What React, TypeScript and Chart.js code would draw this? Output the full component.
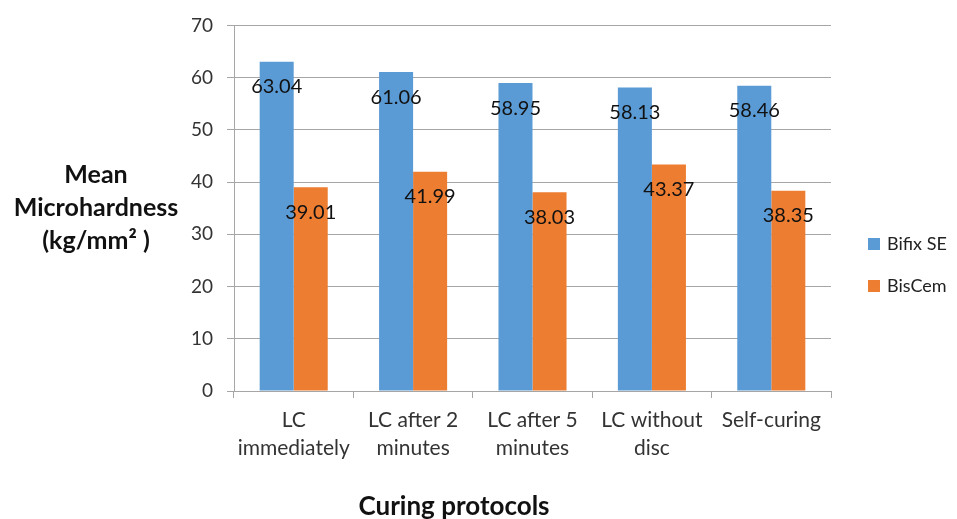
import React, { useEffect, useRef } from "react";
import { Chart, registerables } from "chart.js";

Chart.register(...registerables);

const categories: string[][] = [
  ["LC", "immediately"],
  ["LC after 2", "minutes"],
  ["LC after 5", "minutes"],
  ["LC without", "disc"],
  ["Self-curing"],
];
const bifixSE = [63.04, 61.06, 58.95, 58.13, 58.46];
const bisCem = [39.01, 41.99, 38.03, 43.37, 38.35];
const seriesNames = ["Bifix SE", "BisCem"];
const seriesColors = ["#5B9BD5", "#ED7D31"];
const yMin = 0;
const yMax = 70;
const yStep = 10;
const yTitleLines = ["Mean", "Microhardness", "(kg/mm² )"];
const xTitle = "Curing protocols";

const FONT = "Lato, 'Open Sans', sans-serif";

const decorPlugin = {
  id: "decor",
  afterDatasetsDraw(chart: any) {
    const ctx = chart.ctx;
    ctx.save();
    ctx.font = `20px ${FONT}`;
    ctx.fillStyle = "#111";
    ctx.textAlign = "center";
    ctx.textBaseline = "middle";
    chart.data.datasets.forEach((ds: any, di: number) => {
      const meta = chart.getDatasetMeta(di);
      meta.data.forEach((el: any, i: number) => {
        ctx.fillText(Number(ds.data[i]).toFixed(2), el.x, el.y + 25);
      });
    });
    ctx.restore();
  },
  afterDraw(chart: any) {
    const ctx = chart.ctx;
    ctx.save();
    ctx.font = `bold 25px ${FONT}`;
    ctx.fillStyle = "#111";
    ctx.textAlign = "center";
    ctx.textBaseline = "middle";
    yTitleLines.forEach((t, i) => ctx.fillText(t, 96, 175 + i * 33));
    ctx.font = `bold 26px ${FONT}`;
    ctx.fillText(xTitle, 454, 507);
    ctx.font = `18px ${FONT}`;
    ctx.textAlign = "left";
    seriesNames.forEach((n, i) => {
      const cy = 244 + i * 42;
      ctx.fillStyle = seriesColors[i];
      ctx.fillRect(868, cy - 6, 12, 12);
      ctx.fillStyle = "#222";
      ctx.fillText(n, 887, cy);
    });
    ctx.restore();
  },
};

export default function App() {
  const ref = useRef<HTMLCanvasElement>(null);
  useEffect(() => {
    if (!ref.current) return;
    const chart = new Chart(ref.current, {
      type: "bar",
      data: {
        labels: categories as any,
        datasets: [
          { label: seriesNames[0], data: bifixSE, backgroundColor: seriesColors[0] },
          { label: seriesNames[1], data: bisCem, backgroundColor: seriesColors[1] },
        ],
      },
      options: {
        responsive: false,
        animation: false,
        layout: { padding: { top: 22, right: 126, left: 0, bottom: 0 } },
        datasets: { bar: { categoryPercentage: 0.57, barPercentage: 1 } } as any,
        plugins: { legend: { display: false }, tooltip: { enabled: false } },
        scales: {
          x: {
            grid: { drawOnChartArea: false, drawTicks: true, tickLength: 7, color: "#a6a6a6", offset: true },
            border: { display: true, color: "#a6a6a6" },
            ticks: { font: { family: FONT, size: 21, lineHeight: 1.35 }, color: "#333", padding: 8, maxRotation: 0, autoSkip: false },
            afterFit: (s: any) => { s.height = 128; },
          },
          y: {
            min: yMin,
            max: yMax,
            ticks: { stepSize: yStep, font: { family: FONT, size: 19 }, color: "#333", padding: 14 },
            grid: { color: "#a6a6a6", tickLength: 7, drawTicks: true },
            border: { display: true, color: "#a6a6a6" },
            afterFit: (s: any) => { s.width = 234; },
          },
        },
      },
      plugins: [decorPlugin],
    });
    return () => chart.destroy();
  }, []);
  return (
    <div style={{ position: "fixed", left: 0, top: 0, width: 957, height: 519, background: "#fff" }}>
      <canvas ref={ref} width={957} height={519} />
    </div>
  );
}
